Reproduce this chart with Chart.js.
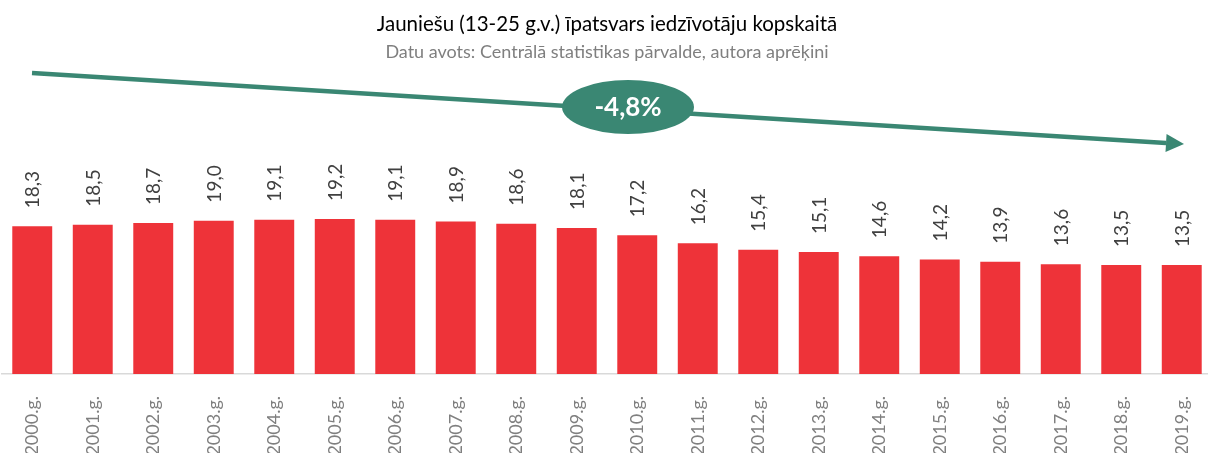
<!DOCTYPE html>
<html>
  <head>
    <script src="https://cdn.jsdelivr.net/npm/chart.js@4"></script>
    <style>
      body { margin: 0; background: #fff; overflow: hidden; }
    </style>
  </head>

  <body>
    <canvas id="canvas" width="1212" height="453"></canvas>
    <script>
      const years = ['2000.g.', '2001.g.', '2002.g.', '2003.g.', '2004.g.', '2005.g.', '2006.g.', '2007.g.', '2008.g.', '2009.g.',
        '2010.g.', '2011.g.', '2012.g.', '2013.g.', '2014.g.', '2015.g.', '2016.g.', '2017.g.', '2018.g.', '2019.g.'];
      const share = [18.3, 18.5, 18.7, 19.0, 19.1, 19.2, 19.1, 18.9, 18.6, 18.1,
        17.2, 16.2, 15.4, 15.1, 14.6, 14.2, 13.9, 13.6, 13.5, 13.5];
      const trendText = '-4,8%';

      const green = '#3a8773';
      const fmt = (v) => v.toFixed(1).replace('.', ',');

      // rotated value labels above the bars
      const valueLabels = {
        id: 'valueLabels',
        afterDatasetsDraw(chart) {
          const ctx = chart.ctx;
          const meta = chart.getDatasetMeta(0);
          ctx.save();
          ctx.font = '19px Lato';
          ctx.fillStyle = '#404040';
          ctx.textAlign = 'left';
          ctx.textBaseline = 'middle';
          meta.data.forEach((bar, i) => {
            ctx.save();
            ctx.translate(bar.x + 1, bar.y - 18);
            ctx.rotate(-Math.PI / 2);
            ctx.fillText(fmt(share[i]), 0, 0);
            ctx.restore();
          });
          ctx.restore();
        },
      };

      // trend arrow with the ellipse badge
      const trendArrow = {
        id: 'trendArrow',
        afterDraw(chart) {
          const ctx = chart.ctx;
          const x0 = 32, y0 = 73, x1 = 1184, y1 = 144;
          const ang = Math.atan2(y1 - y0, x1 - x0);
          const headLen = 18, headW = 9;
          const bx = x1 - headLen * Math.cos(ang);
          const by = y1 - headLen * Math.sin(ang);
          ctx.save();
          ctx.strokeStyle = green;
          ctx.fillStyle = green;
          ctx.lineWidth = 4.5;
          ctx.beginPath();
          ctx.moveTo(x0, y0);
          ctx.lineTo(bx, by);
          ctx.stroke();
          ctx.beginPath();
          ctx.moveTo(x1, y1);
          ctx.lineTo(bx + headW * Math.sin(ang), by - headW * Math.cos(ang));
          ctx.lineTo(bx - headW * Math.sin(ang), by + headW * Math.cos(ang));
          ctx.closePath();
          ctx.fill();

          ctx.beginPath();
          ctx.ellipse(628, 107, 66, 27, 0, 0, Math.PI * 2);
          ctx.fill();
          ctx.fillStyle = '#fff';
          ctx.font = 'bold 26px Lato';
          ctx.textAlign = 'center';
          ctx.textBaseline = 'middle';
          ctx.fillText(trendText, 628, 108);
          ctx.restore();
        },
      };

      new Chart(document.getElementById('canvas').getContext('2d'), {
        type: 'bar',
        data: {
          labels: years,
          datasets: [
            {
              data: share,
              backgroundColor: '#ee3339',
              barPercentage: 0.66,
              categoryPercentage: 1,
            },
          ],
        },
        options: {
          responsive: false,
          animation: false,
          layout: {
            padding: { left: 2, right: 0, top: 0, bottom: 0 },
          },
          plugins: {
            legend: { display: false },
            tooltip: { enabled: false },
            title: {
              display: true,
              text: 'Jauniešu (13-25 g.v.) īpatsvars iedzīvotāju kopskaitā',
              color: '#000',
              font: { family: 'Lato', size: 20.5, weight: 'normal' },
              padding: { top: 12, bottom: 0 },
            },
            subtitle: {
              display: true,
              text: 'Datu avots: Centrālā statistikas pārvalde, autora aprēķini',
              color: '#7f7f7f',
              font: { family: 'Lato', size: 18 },
              padding: { top: 5, bottom: 109 },
            },
          },
          scales: {
            x: {
              grid: { display: false, drawTicks: false },
              border: { color: '#d9d9d9', width: 1.5 },
              ticks: {
                color: '#7f7f7f',
                font: { family: 'Lato', size: 18 },
                minRotation: 90,
                maxRotation: 90,
                padding: 22,
              },
              afterFit: (scale) => {
                scale.height = 79;
                scale.paddingLeft = 0;
                scale.paddingRight = 0;
              },
            },
            y: {
              display: false,
              min: 0,
              max: 25,
            },
          },
        },
        plugins: [valueLabels, trendArrow],
      });
    </script>
  </body>
</html>
